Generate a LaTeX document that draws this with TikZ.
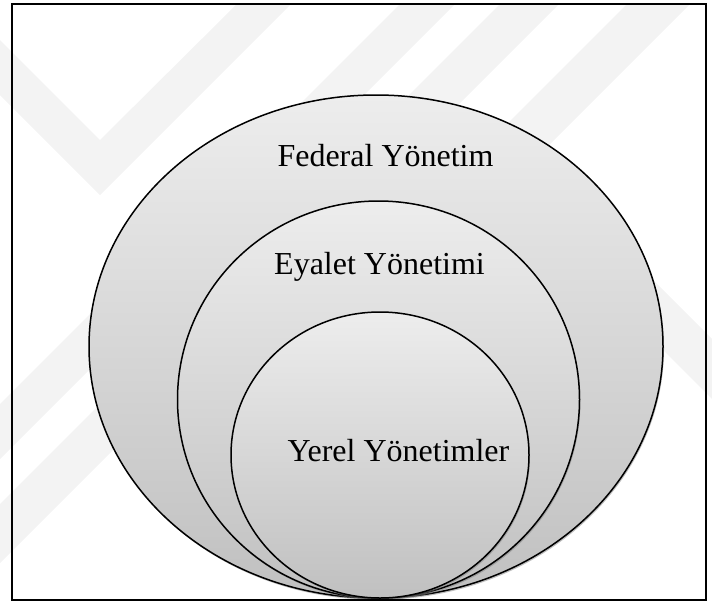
\documentclass[tikz,border=0pt]{standalone}
\usepackage{fontspec}
\setmainfont{Liberation Serif}
\usetikzlibrary{shapes.geometric,shadows}
\definecolor{wm}{RGB}{243,243,243}
\definecolor{topc}{RGB}{237,237,237}
\definecolor{botc}{RGB}{192,192,192}
\tikzset{
  ring/.style={ellipse, draw=black, line width=1.5pt, inner sep=0pt,
    top color=topc, bottom color=botc,
    drop shadow={shadow xshift=1pt, shadow yshift=-1.8pt, fill=black!50}},
  lbl/.style={anchor=base, inner sep=0pt, font=\fontsize{32pt}{36pt}\selectfont},
  wmark/.style={fill=wm, draw=none}
}
\begin{document}
\begin{tikzpicture}[x=1pt,y=-1pt]
\useasboundingbox (0,0) rectangle (712,603);
% watermark
\begin{scope}
\clip (0,0) rectangle (712,603);
\fill[wmark] (0,40) -- (100,140) -- (237,4) -- (291,4) -- (100,195) -- (0,95) -- cycle;
\fill[wmark] (400,4) -- (455,4) -- (0,459) -- (0,404) -- cycle;
\fill[wmark] (500,4) -- (559,4) -- (0,563) -- (0,504) -- cycle;
\fill[wmark] (627,4) -- (690,4) -- (533.5,160.5) -- (712,339) -- (712,399) -- (472,159) -- cycle;
\end{scope}
% ellipses
\node[ring, minimum width=574pt, minimum height=503pt] (fed) at (376,346.5) {};
\node[ring, minimum width=402pt, minimum height=397pt] (eya) at (378.5,399.5) {};
\node[ring, minimum width=298pt, minimum height=286pt] (yer) at (380,455) {};
% labels
\node[lbl] (tfed) at (385.5,166.5) {Federal Yönetim};
\node[lbl] (teya) at (379.5,274) {Eyalet Yönetimi};
\node[lbl] (tyer) at (398.5,461) {Yerel Yönetimler};
% frame
\node[draw=black, line width=2.2pt, inner sep=0pt, minimum width=694pt, minimum height=596pt] (frame) at (359,302) {};
\end{tikzpicture}
\end{document}
